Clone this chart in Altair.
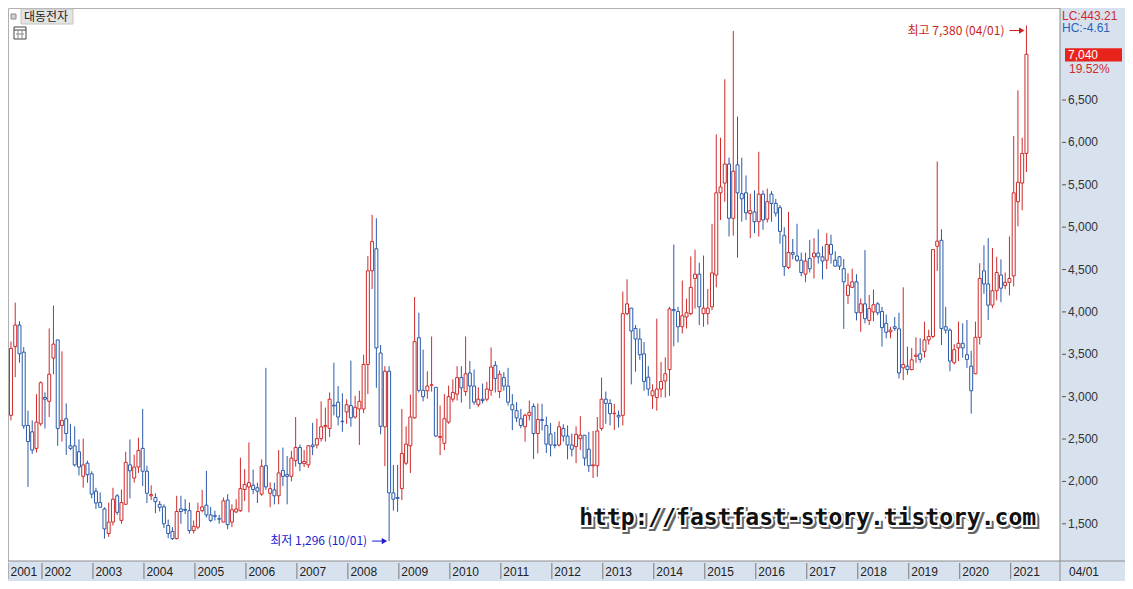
import altair as alt
import pandas as pd

# ---------------- data (monthly candles, 2001-05 .. 2021-04) ----------------
opens = [2780, 3590, 3845, 3525, 2660, 2585, 2390, 2680, 2990, 2945,
         3455, 3670, 2660, 2740, 2420, 2420, 2350, 2060, 2215, 2090,
         1885, 1750, 1675, 1385, 1520, 1830, 1540, 1730, 2195, 2040,
         2170, 2390, 2120, 1830, 1810, 1730, 1700, 1480, 1410, 1325,
         1675, 1670, 1655, 1420, 1460, 1655, 1720, 1605, 1595, 1560,
         1520, 1780, 1520, 1640, 1655, 1905, 1935, 1955, 1925, 1850,
         2185, 1860, 1900, 1830, 2130, 2080, 2060, 2245, 2400, 2210,
         2195, 2430, 2430, 2505, 2645, 2625, 2900, 2935, 2710, 2820,
         2895, 2760, 2855, 2855, 3380, 4485, 4745, 3515, 2645, 3300,
         1865, 1810, 1915, 2215, 2420, 2750, 3695, 3075, 3070, 3135,
         3110, 2520, 2450, 2700, 2970, 3030, 3225, 3060, 3280, 3125,
         2905, 2970, 2970, 3075, 3370, 3060, 3225, 3125, 2905, 2835,
         2740, 2645, 2780, 2885, 2565, 2730, 2660, 2560, 2430, 2430,
         2625, 2535, 2430, 2410, 2505, 2545, 2380, 2185, 2185, 2625,
         2970, 2920, 2800, 2780, 2780, 3980, 4045, 3805, 3680, 3505,
         3230, 3010, 2990, 3090, 3185, 3320, 4030, 4005, 3825, 3940,
         3980, 4395, 4445, 3980, 3980, 4060, 4435, 5405, 5520, 5745,
         5105, 5735, 5395, 5405, 5160, 5180, 5065, 5390, 5095, 5390,
         5280, 5230, 4900, 4525, 4700, 4660, 4610, 4445, 4630, 4650,
         4695, 4650, 4610, 4795, 4610, 4650, 4510, 4195, 4290, 4355,
         3990, 4095, 3900, 4000, 4095, 4005, 3865, 3765, 3825, 3800,
         3340, 3360, 3320, 3475, 3505, 3535, 3670, 3710, 4775, 4845,
         3825, 3785, 3400, 3575, 3630, 3495, 3360, 3270, 3700, 4485,
         4330, 4080, 4250, 4435, 4310, 4350, 4425, 5300, 5520, 5870]

highs = [3650, 4110, 3890, 3585, 2835, 2720, 3030, 3180, 3050, 3805,
         4075, 3670, 3535, 2920, 2680, 2650, 2495, 2505, 2245, 2120,
         1925, 1870, 1695, 1750, 1925, 1850, 1905, 2350, 2495, 2315,
         2515, 2855, 2185, 1955, 1860, 1770, 1730, 1550, 1460, 1830,
         1830, 1790, 1750, 1540, 1750, 1900, 2125, 1700, 1655, 1605,
         1810, 1850, 1730, 1790, 2280, 2145, 2460, 2140, 1985, 2260,
         3340, 1990, 1985, 2370, 2400, 2300, 2360, 2760, 2435, 2370,
         2430, 2690, 2740, 2945, 2870, 3050, 3400, 3125, 3040, 2970,
         3425, 3010, 3070, 3495, 4660, 5145, 5105, 3610, 3360, 3360,
         2195, 2195, 2855, 2650, 3025, 4175, 3990, 3555, 3300, 3710,
         3110, 2895, 3030, 3130, 3205, 3360, 3360, 3710, 3420, 3320,
         3110, 3155, 3175, 3580, 3420, 3310, 3290, 3340, 3030, 2935,
         2855, 2800, 2955, 2920, 2920, 2915, 2765, 2690, 2585, 2710,
         2675, 2660, 2565, 2650, 2770, 2545, 2585, 2595, 2760, 3225,
         3060, 2970, 2915, 2835, 4240, 4385, 4045, 3845, 3805, 3645,
         3360, 3145, 3920, 3410, 3465, 4060, 4795, 4060, 4370, 4155,
         4655, 4735, 4580, 4665, 4270, 5040, 6095, 6055, 6745, 5820,
         7315, 6305, 5820, 5610, 5395, 5435, 5890, 5435, 5455, 5425,
         5335, 5260, 5000, 5180, 4860, 5040, 4700, 4700, 4850, 4870,
         4975, 4775, 4930, 4910, 4715, 4660, 4625, 4455, 4510, 4445,
         4160, 4730, 4200, 4265, 4115, 4060, 3970, 3825, 3940, 3990,
         4290, 3590, 3575, 3700, 3690, 3885, 3790, 4735, 5775, 4975,
         4060, 3805, 3620, 3885, 3865, 3905, 3540, 3885, 4575, 4785,
         4870, 4755, 4650, 4620, 4465, 4890, 6075, 6615, 6055, 7380]

lows = [2720, 3230, 3400, 2620, 1935, 2325, 2340, 2655, 2625, 2760,
        3265, 2420, 2470, 2315, 2370, 2175, 2070, 1925, 1985, 1800,
        1675, 1690, 1325, 1345, 1480, 1605, 1500, 1730, 1800, 1985,
        2100, 1945, 1745, 1780, 1625, 1645, 1450, 1330, 1310, 1315,
        1500, 1615, 1385, 1385, 1435, 1635, 1575, 1520, 1540, 1500,
        1520, 1435, 1460, 1625, 1640, 1770, 1635, 1850, 1745, 1830,
        1900, 1695, 1730, 1730, 1945, 1730, 2000, 2175, 2120, 2170,
        2160, 2310, 2390, 2470, 2470, 2525, 2780, 2660, 2585, 2680,
        2645, 2740, 2430, 2805, 3030, 4270, 3105, 2555, 2180, 1296,
        1655, 1640, 1780, 2195, 2100, 2740, 3050, 2945, 2975, 3060,
        2525, 2310, 2370, 2680, 2935, 2955, 2930, 3010, 2855, 2905,
        2880, 2920, 2945, 3010, 3050, 2985, 3070, 2895, 2605, 2700,
        2625, 2470, 2720, 2265, 2330, 2600, 2335, 2295, 2390, 2410,
        2470, 2260, 2295, 2215, 2370, 2185, 2110, 2040, 2055, 2600,
        2680, 2660, 2605, 2635, 2660, 3960, 3145, 3295, 3435, 3070,
        3010, 2855, 2835, 2990, 2990, 3010, 3595, 3640, 3745, 3805,
        3960, 4040, 3845, 3825, 3850, 4020, 4290, 5085, 5300, 4890,
        4900, 4640, 5065, 5085, 4870, 4930, 4890, 4970, 5055, 5065,
        5125, 4805, 4425, 4505, 4620, 4590, 4420, 4350, 4465, 4395,
        4570, 4385, 4505, 4570, 4535, 4495, 3800, 4095, 4280, 3900,
        3765, 3865, 3845, 3890, 3960, 3590, 3690, 3690, 3775, 3215,
        3195, 3260, 3310, 3400, 3400, 3460, 3615, 3690, 4485, 3610,
        3745, 3300, 3380, 3420, 3460, 3340, 2800, 3265, 3615, 4215,
        3905, 4045, 4135, 4115, 4270, 4195, 4300, 5010, 5200, 5650]

closes = [3570, 3845, 3505, 2655, 2470, 2370, 2700, 3165, 2970, 3265,
          3620, 2625, 2720, 2565, 2390, 2195, 2170, 2195, 2080, 1850,
          1745, 1695, 1440, 1520, 1790, 1635, 1750, 2225, 2125, 2170,
          2365, 2120, 1860, 1845, 1760, 1695, 1500, 1385, 1325, 1645,
          1645, 1660, 1420, 1470, 1645, 1700, 1605, 1540, 1588, 1555,
          1770, 1490, 1665, 1675, 1915, 1965, 1985, 1905, 1885, 2180,
          1935, 1915, 1830, 2100, 2060, 2060, 2275, 2400, 2210, 2235,
          2420, 2410, 2505, 2645, 2660, 2970, 2890, 2760, 2705, 2905,
          2750, 2875, 2945, 3380, 4485, 4830, 3575, 2650, 3300, 1865,
          1790, 1800, 2330, 2440, 2760, 3650, 3075, 3000, 3125, 3140,
          2535, 2530, 2740, 3000, 3050, 3225, 3105, 3270, 3125, 2935,
          2970, 2955, 3090, 3350, 3215, 3265, 3125, 2935, 2845, 2750,
          2660, 2780, 2815, 2565, 2730, 2720, 2440, 2430, 2425, 2645,
          2535, 2430, 2380, 2555, 2545, 2275, 2185, 2195, 2595, 2970,
          2920, 2800, 2805, 2760, 3980, 4095, 3775, 3680, 3495, 3180,
          3090, 3070, 3090, 3180, 3270, 4035, 4015, 3825, 3955, 3990,
          4290, 4445, 4060, 4045, 4045, 4460, 5405, 5475, 5745, 5105,
          5660, 5405, 5335, 5170, 5195, 5065, 5390, 5085, 5300, 5280,
          5165, 4950, 4535, 4700, 4680, 4610, 4465, 4600, 4510, 4695,
          4650, 4600, 4795, 4680, 4540, 4540, 4355, 4315, 4355, 3990,
          4095, 3920, 4040, 4085, 3990, 3815, 3760, 3785, 3805, 3280,
          3380, 3320, 3435, 3490, 3440, 3670, 3710, 4735, 4835, 3805,
          3785, 3420, 3555, 3630, 3575, 3440, 3070, 3700, 4395, 4330,
          4080, 4250, 4465, 4280, 4350, 4395, 5405, 5530, 5870, 7040]

year_labels = ["2001", "2002", "2003", "2004", "2005", "2006", "2007",
               "2008", "2009", "2010", "2011", "2012", "2013", "2014",
               "2015", "2016", "2017", "2018", "2019", "2020", "2021"]
year_index = [0, 8, 20, 32, 44, 56, 68, 80, 92, 104, 116, 128, 140,
              152, 164, 176, 188, 200, 212, 224, 236]

y_tick_values = [1500, 2000, 2500, 3000, 3500, 4000, 4500, 5000, 5500, 6000, 6500]
y_tick_labels = ["1,500", "2,000", "2,500", "3,000", "3,500", "4,000",
                 "4,500", "5,000", "5,500", "6,000", "6,500"]

low_note = "최저 1,296 (10/01)"
high_note = "최고 7,380 (04/01)"
watermark = "http://fastfast-story.tistory.com"

# ---------------- style ----------------
RED = "#d02a2a"
BLUE = "#2a5aaa"
BAND = "#d8e2ef"
AXF = "'Liberation Sans', Arial, sans-serif"
KR = "'Noto Sans CJK KR', 'Noto Sans', sans-serif"
W, H = 1052, 553
RB, BB = 65, 20

xs = alt.Scale(domain=[-0.7, 246.9], nice=False, zero=False)
ys = alt.Scale(domain=[1061, 7586], nice=False, zero=False)

df = pd.DataFrame({"i": list(range(len(opens))), "open": opens, "high": highs,
                   "low": lows, "close": closes})
df["dir"] = ["up" if c >= o else "down" for o, c in zip(opens, closes)]
df["x0"] = df["i"] - 0.35
df["x1"] = df["i"] + 0.35

dir_scale = alt.Scale(domain=["up", "down"], range=[RED, BLUE])
dummy = pd.DataFrame({"a": [0]})


def prect(x, x2, y, y2, **kw):
    return alt.Chart(dummy).mark_rect(**kw).encode(
        x=alt.value(x), x2=alt.value(x2), y=alt.value(y), y2=alt.value(y2))


def prule(x, x2, y, y2, **kw):
    return alt.Chart(dummy).mark_rule(**kw).encode(
        x=alt.value(x), x2=alt.value(x2), y=alt.value(y), y2=alt.value(y2))


def ptext(text, x, y, **kw):
    return alt.Chart(dummy).mark_text(text=text, **kw).encode(
        x=alt.value(x), y=alt.value(y))


def X(f):
    return alt.X(f, type="quantitative", scale=xs, axis=None)


def Y(f):
    return alt.Y(f, type="quantitative", scale=ys, axis=None)


# bands (right price axis / bottom date axis)
right_band = prect(W, W + RB, 0, H + BB, color=BAND)
bottom_band = prect(0, W + RB, H, H + BB, color=BAND)
band_h = prule(0, W + RB, H, H, color="#8c8c8c", strokeWidth=1)
band_v = prule(W, W, 0, H + BB, color="#8c8c8c", strokeWidth=1)

# price axis (right)
tdf = pd.DataFrame({"v": y_tick_values, "label": y_tick_labels})
y_ticks = alt.Chart(tdf).mark_rule(color="#555555", strokeWidth=1).encode(
    x=alt.value(W + 2), x2=alt.value(W + 6), y=Y("v"))
y_labels = alt.Chart(tdf).mark_text(align="left", baseline="middle", font=AXF,
                                    fontSize=12, color="#333333").encode(
    x=alt.value(W + 8), y=Y("v"), text="label:N")

# candles
wick = alt.Chart(df).mark_rule(strokeWidth=1).encode(
    x=X("i"), y=Y("low"), y2="high:Q",
    color=alt.Color("dir:N", scale=dir_scale, legend=None),
)
body = alt.Chart(df).mark_rect(fill="white", strokeWidth=1).encode(
    x=X("x0"), x2="x1:Q", y=Y("open"), y2="close:Q",
    stroke=alt.Stroke("dir:N", scale=dir_scale, legend=None),
)

# date axis labels
ydf = pd.DataFrame({"i": year_index, "label": year_labels})
ydf["sep"] = ydf["i"] - 0.7
year_sep = alt.Chart(ydf).mark_rule(color="#7a7a7a", strokeWidth=1).encode(
    x=X("sep"), y=alt.value(H + 2), y2=alt.value(H + BB - 2))
year_txt = alt.Chart(ydf).mark_text(align="left", baseline="middle", font=AXF,
                                    fontSize=12, color="#222222", dx=-0.5).encode(
    x=X("i"), y=alt.value(H + BB / 2 + 1), text="label:N")
last_date = ptext("04/01", W + 9, H + BB / 2 + 1, align="left", baseline="middle",
                  font=AXF, fontSize=12, color="#222222")

# min / max annotations
LOWC = "#1c1cd0"
HIGHC = "#c81e1e"
lo = pd.DataFrame({"i": [89], "p": [1296], "label": [low_note]})
hi = pd.DataFrame({"i": [239], "p": [7320], "label": [high_note]})


def annotation(d, colr):
    d = d.copy()
    d["a0"] = d["i"] - 4.0
    d["a1"] = d["i"] - 1.0
    d["head"] = d["i"] - 1.1
    t = alt.Chart(d).mark_text(align="right", baseline="middle", dx=-22, font=KR,
                               fontSize=12, color=colr).encode(
        x=X("i"), y=Y("p"), text="label:N")
    ln = alt.Chart(d).mark_rule(strokeWidth=1, color=colr).encode(
        x=X("a0"), x2="a1:Q", y=Y("p"))
    hd = alt.Chart(d).mark_point(shape="triangle-right", filled=True, size=38,
                                 opacity=1, color=colr).encode(x=X("head"), y=Y("p"))
    return [ln, hd, t]


# watermark
wm = pd.DataFrame({"i": [187.5], "p": [1573], "t": [watermark]})
wm_kw = dict(font="'DejaVu Sans Mono', 'Liberation Mono', monospace", fontWeight="bold",
             fontSize=23, align="center", baseline="middle")
wm_shadow = alt.Chart(wm).mark_text(color="#666666", stroke="#666666", strokeWidth=4,
                                    dx=2, dy=2, **wm_kw).encode(x=X("i"), y=Y("p"), text="t:N")
wm_outline = alt.Chart(wm).mark_text(color="white", stroke="white", strokeWidth=4,
                                     **wm_kw).encode(x=X("i"), y=Y("p"), text="t:N")
wm_fill = alt.Chart(wm).mark_text(color="#111111", **wm_kw).encode(
    x=X("i"), y=Y("p"), text="t:N")

# current price box
box = pd.DataFrame({"top": [7110], "bot": [6955], "mid": [7030], "pct": [6870]})
price_box = alt.Chart(box).mark_rect(color="#e8231c").encode(
    x=alt.value(W + 5), x2=alt.value(W + RB - 3), y=Y("top"), y2="bot:Q")
price_txt = alt.Chart(box).mark_text(text="7,040", align="left", baseline="middle",
                                     font=AXF, fontSize=12, color="white").encode(
    x=alt.value(W + 8), y=Y("mid"))
pct_txt = alt.Chart(box).mark_text(text="19.52%", align="left", baseline="middle",
                                   font=AXF, fontSize=12, color="#d02a2a").encode(
    x=alt.value(W + 9), y=Y("pct"))

lc_txt = ptext("LC:443.21", W + 2, 8, align="left", baseline="middle", font=AXF,
               fontSize=12, color="#d02a2a")
hc_txt = ptext("HC:-4.61", W + 2, 20, align="left", baseline="middle", font=AXF,
               fontSize=12, color="#2a62c0")

# top-left title widgets
sq_icon = prect(3, 8, 6, 11, color="#cfcfcf", stroke="#8a8a8a", strokeWidth=1)
title_box = prect(13, 65, 1, 16, color="#e4e4e4", stroke="#c4c4c4", strokeWidth=1)
title_txt = ptext("대동전자", 16, 9, align="left", baseline="middle", font=KR,
                  fontSize=12, color="#222222")
grid_icon = prect(6, 18, 19, 31, color="white", stroke="#444444", strokeWidth=1)
grid_h1 = prule(6, 18, 22, 22, color="#444444", strokeWidth=1)
grid_h2 = prule(8, 16, 26, 26, color="#888888", strokeWidth=1)
grid_v1 = prule(10, 10, 22, 31, color="#888888", strokeWidth=1)
grid_v2 = prule(14, 14, 22, 31, color="#888888", strokeWidth=1)

chart = alt.layer(
    right_band, bottom_band, band_h, band_v, y_ticks, y_labels,
    wick, body,
    year_sep, year_txt, last_date,
    *annotation(lo, LOWC), *annotation(hi, HIGHC),
    wm_shadow, wm_outline, wm_fill,
    price_box, price_txt, pct_txt, lc_txt, hc_txt,
    sq_icon, title_box, title_txt, grid_icon, grid_h1, grid_h2, grid_v1, grid_v2,
).properties(
    width=W, height=H,
    autosize=alt.AutoSizeParams(type="none"),
    padding={"left": 0, "top": 0, "right": RB, "bottom": BB},
    background="white",
).configure_view(stroke="#b0b0b0", strokeWidth=1)

chart.save("out.html", embed_options={"renderer": "svg", "actions": False})
